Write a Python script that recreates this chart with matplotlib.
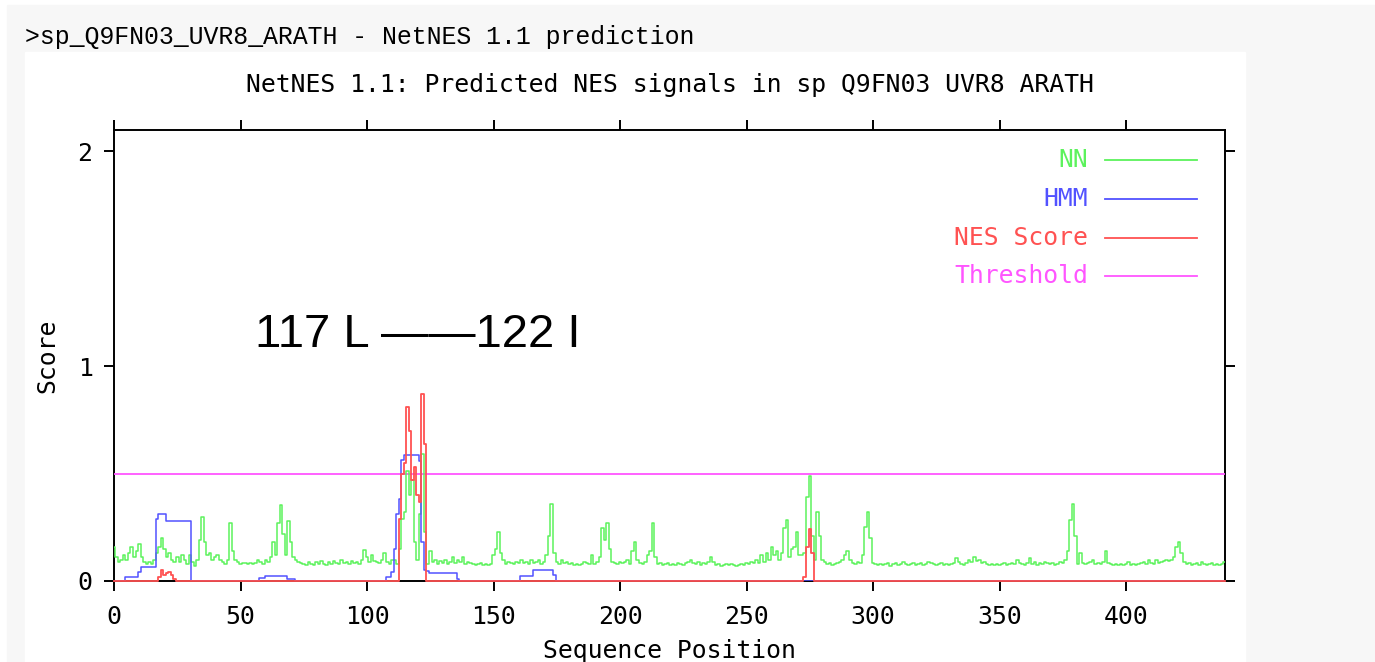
"""
NetNES 1.1 prediction plot for sp_Q9FN03_UVR8_ARATH, redrawn with matplotlib.
"""

import matplotlib
matplotlib.use('Agg')
import matplotlib.pyplot as plt
import matplotlib.patches as mpatches
import numpy as np

# ── Data ─────────────────────────────────────────────────────────────────────
nn_score = [
    0.16, 0.11, 0.09, 0.10, 0.12, 0.10, 0.13, 0.16, 0.11, 0.14,
    0.17, 0.11, 0.09, 0.08, 0.09, 0.08, 0.10, 0.13, 0.16, 0.20,
    0.15, 0.11, 0.13, 0.10, 0.09, 0.11, 0.09, 0.12, 0.10, 0.08,
    0.12, 0.09, 0.07, 0.10, 0.19, 0.30, 0.18, 0.12, 0.13, 0.10,
    0.11, 0.12, 0.10, 0.09, 0.08, 0.10, 0.27, 0.14, 0.10, 0.09,
    0.08, 0.085, 0.085, 0.08, 0.085, 0.08, 0.085, 0.10, 0.09, 0.08,
    0.10, 0.09, 0.11, 0.18, 0.12, 0.27, 0.355, 0.22, 0.12, 0.28,
    0.18, 0.11, 0.10, 0.09, 0.085, 0.08, 0.075, 0.09, 0.08, 0.075,
    0.09, 0.08, 0.095, 0.08, 0.075, 0.09, 0.08, 0.095, 0.085, 0.08,
    0.10, 0.085, 0.09, 0.08, 0.095, 0.085, 0.09, 0.08, 0.10, 0.145,
    0.11, 0.09, 0.12, 0.095, 0.09, 0.085, 0.10, 0.13, 0.09, 0.08,
    0.10, 0.10, 0.08, 0.15, 0.29, 0.32, 0.51, 0.40, 0.47, 0.18,
    0.10, 0.31, 0.59, 0.23, 0.08, 0.14, 0.09, 0.10, 0.08, 0.095,
    0.085, 0.10, 0.08, 0.09, 0.11, 0.085, 0.10, 0.09, 0.11, 0.08,
    0.09, 0.085, 0.08, 0.075, 0.08, 0.085, 0.075, 0.08, 0.075, 0.08,
    0.12, 0.15, 0.23, 0.13, 0.10, 0.08, 0.09, 0.085, 0.08, 0.09,
    0.085, 0.10, 0.085, 0.09, 0.08, 0.10, 0.085, 0.09, 0.10, 0.08,
    0.09, 0.12, 0.21, 0.36, 0.13, 0.09, 0.08, 0.10, 0.085, 0.09,
    0.08, 0.085, 0.075, 0.08, 0.075, 0.08, 0.09, 0.085, 0.08, 0.12,
    0.08, 0.09, 0.11, 0.245, 0.19, 0.27, 0.15, 0.09, 0.085, 0.08,
    0.09, 0.085, 0.09, 0.10, 0.08, 0.14, 0.18, 0.10, 0.085, 0.08,
    0.09, 0.12, 0.14, 0.27, 0.11, 0.08, 0.085, 0.075, 0.08, 0.085,
    0.075, 0.08, 0.075, 0.085, 0.08, 0.075, 0.085, 0.09, 0.10, 0.085,
    0.08, 0.09, 0.075, 0.085, 0.08, 0.09, 0.11, 0.09, 0.075, 0.08,
    0.07, 0.075, 0.08, 0.075, 0.08, 0.075, 0.07, 0.075, 0.08, 0.075,
    0.085, 0.08, 0.09, 0.085, 0.10, 0.085, 0.12, 0.09, 0.13, 0.10,
    0.16, 0.12, 0.14, 0.10, 0.13, 0.245, 0.285, 0.11, 0.15, 0.16,
    0.23, 0.12, 0.12, 0.13, 0.39, 0.49, 0.21, 0.10, 0.32, 0.21,
    0.10, 0.09, 0.08, 0.085, 0.075, 0.08, 0.085, 0.09, 0.10, 0.12,
    0.14, 0.10, 0.085, 0.08, 0.09, 0.085, 0.12, 0.25, 0.32, 0.20,
    0.085, 0.08, 0.075, 0.08, 0.075, 0.08, 0.085, 0.07, 0.08, 0.085,
    0.075, 0.08, 0.09, 0.08, 0.075, 0.08, 0.085, 0.075, 0.08, 0.085,
    0.075, 0.08, 0.09, 0.085, 0.08, 0.075, 0.08, 0.085, 0.075, 0.08,
    0.075, 0.08, 0.085, 0.105, 0.09, 0.08, 0.075, 0.085, 0.10, 0.09,
    0.11, 0.095, 0.10, 0.085, 0.09, 0.08, 0.075, 0.08, 0.075, 0.08,
    0.075, 0.08, 0.085, 0.075, 0.08, 0.085, 0.08, 0.10, 0.085, 0.08,
    0.075, 0.085, 0.105, 0.08, 0.09, 0.075, 0.085, 0.08, 0.09, 0.085,
    0.08, 0.085, 0.075, 0.08, 0.09, 0.085, 0.10, 0.14, 0.285, 0.36,
    0.21, 0.08, 0.13, 0.085, 0.08, 0.085, 0.09, 0.10, 0.08, 0.085,
    0.08, 0.09, 0.14, 0.085, 0.08, 0.075, 0.08, 0.075, 0.08, 0.075,
    0.08, 0.09, 0.075, 0.08, 0.075, 0.08, 0.085, 0.09, 0.08, 0.10,
    0.085, 0.08, 0.10, 0.085, 0.09, 0.095, 0.10, 0.095, 0.10, 0.11,
    0.16, 0.18, 0.13, 0.09, 0.08, 0.085, 0.075, 0.08, 0.085, 0.075,
    0.09, 0.08, 0.075, 0.08, 0.085, 0.075, 0.08, 0.075, 0.08, 0.09,
]

# HMM is a step curve: level held from start to end position (inclusive)
hmm_start = [5, 10, 11, 17, 18, 21, 58, 60, 69, 108, 110, 111, 112, 113,
             114, 115, 121, 122, 123, 124, 125, 136, 161, 166, 174]
hmm_end   = [9, 10, 16, 17, 20, 30, 59, 68, 71, 109, 110, 111, 112, 113,
             114, 120, 121, 122, 123, 124, 135, 136, 165, 173, 174]
hmm_level = [0.02, 0.04, 0.065, 0.29, 0.31, 0.28, 0.015, 0.022, 0.01, 0.02,
             0.04, 0.15, 0.31, 0.38, 0.565, 0.585, 0.56, 0.18, 0.05, 0.045,
             0.035, 0.01, 0.022, 0.052, 0.03]

# NES score is zero except at these positions
nes_pos = [18, 19, 20, 21, 22, 23, 24,
           113, 114, 115, 116, 117, 118, 119, 120, 121, 122, 123,
           273, 274, 275, 276]
nes_val = [0.02, 0.05, 0.03, 0.035, 0.04, 0.03, 0.01,
           0.29, 0.50, 0.55, 0.81, 0.70, 0.47, 0.53, 0.40, 0.37, 0.87, 0.64,
           0.02, 0.16, 0.24, 0.13]

threshold = 0.5

x_ticks = [0, 50, 100, 150, 200, 250, 300, 350, 400]
y_ticks = [0, 1, 2]

positions = np.arange(len(nn_score))
hmm = np.zeros(len(nn_score))
for s, e, v in zip(hmm_start, hmm_end, hmm_level):
    hmm[s:e + 1] = v
nes = np.zeros(len(nn_score))
nes[nes_pos] = nes_val

# ── Style ────────────────────────────────────────────────────────────────────
C_NN  = '#5cf25c'
C_HMM = '#5252ff'
C_NES = '#ff5252'
C_THR = '#ff55ff'
MONO  = 'DejaVu Sans Mono'
FS    = 17.8

W, H = 1375, 662
fig = plt.figure(figsize=(W / 100, H / 100), dpi=100, facecolor='white')

# page background + white panel behind the plot
fig.patches.append(mpatches.Rectangle((7 / W, 0), 1, 1 - 5 / H,
                                      transform=fig.transFigure,
                                      color='#f7f7f7', zorder=-10))
fig.patches.append(mpatches.Rectangle((25 / W, 0), 1220 / W, 1 - 52 / H,
                                      transform=fig.transFigure,
                                      color='white', zorder=-9))

fig.text(25 / W, 1 - 37 / H, '>sp_Q9FN03_UVR8_ARATH - NetNES 1.1 prediction',
         family='Liberation Mono', fontsize=17.9, ha='left', va='center')

ax = fig.add_axes([114 / W, 1 - 581 / H, 1111 / W, 451 / H])
ax.set_facecolor('white')

ax.axhline(threshold, color=C_THR, linewidth=1.3, zorder=3)
ax.plot(positions, nn_score, color=C_NN, linewidth=1.1,
        drawstyle='steps-mid', zorder=4)
ax.plot(positions, hmm, color=C_HMM, linewidth=1.1,
        drawstyle='steps-mid', zorder=5)
ax.plot(positions, nes, color=C_NES, linewidth=1.3,
        drawstyle='steps-mid', zorder=6, clip_on=False)

ax.set_xlim(0, 439.1)
ax.set_ylim(0, 2.1)
ax.set_xticks(x_ticks)
ax.set_yticks(y_ticks)
ax.tick_params(which='both', direction='out', length=7.5, width=1.4,
               top=True, right=True, labelsize=FS, color='black')
ax.tick_params(axis='x', pad=10)
ax.tick_params(axis='y', pad=8)
for lab in ax.get_xticklabels() + ax.get_yticklabels():
    lab.set_family(MONO)
for sp in ax.spines.values():
    sp.set_linewidth(1.4)

ax.set_xlabel('Sequence Position', family=MONO, fontsize=FS)
ax.xaxis.set_label_coords(0.5, -(651 - 581) / 451)
ax.xaxis.label.set_verticalalignment('center')
ax.set_ylabel('Score', family=MONO, fontsize=FS)
ax.yaxis.set_label_coords((47 - 114) / 1111, 0.5)
ax.yaxis.label.set_verticalalignment('center')

ax.text(0.5, (581 - 85) / 451,
        'NetNES 1.1: Predicted NES signals in sp Q9FN03 UVR8 ARATH',
        transform=ax.transAxes, family=MONO, fontsize=FS,
        ha='center', va='center')

# legend drawn by hand: right-aligned labels, short line to the right
legend_items = [('NN', C_NN), ('HMM', C_HMM), ('NES Score', C_NES),
                ('Threshold', C_THR)]
legend_y = [160, 199, 238, 276]
for (label, col), py in zip(legend_items, legend_y):
    yf = (581 - py) / 451
    ax.text((1088 - 114) / 1111, yf, label, transform=ax.transAxes,
            family=MONO, fontsize=FS, color=col, ha='right', va='center')
    ax.plot([(1105 - 114) / 1111, (1197 - 114) / 1111], [yf, yf],
            transform=ax.transAxes, color=col, linewidth=1.3)

# region annotation
fig.text(255 / W, 1 - 347 / H, '117 L \u2014\u2014122 I',
         family='Liberation Sans', fontsize=34, ha='left', va='baseline')

fig.savefig('out.png', dpi=100)
print('Saved: out.png')
